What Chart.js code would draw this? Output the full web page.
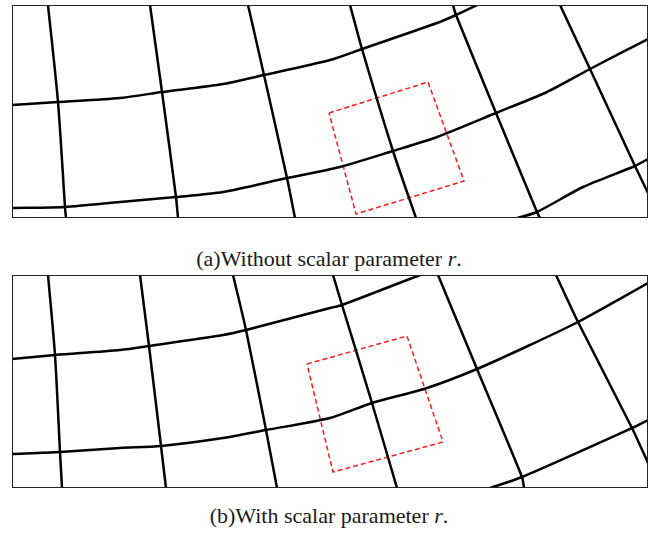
<!DOCTYPE html>
<html>
<head>
<meta charset="utf-8">
<script src="https://cdn.jsdelivr.net/npm/chart.js@4"></script>
<style>
  body { margin: 0; background: #fff; width: 667px; height: 540px; position: relative; overflow: hidden; }
  .panel { position: absolute; left: 12px; width: 636px; height: 213px; }
  .caption { position: absolute; left: 0; width: 658px; text-align: center; line-height: 25px;
             font-family: "Liberation Serif", "DejaVu Serif", serif; font-size: 22px; color: #1a1a1a; }
</style>
</head>
<body>
<div class="panel" style="top:5px"><canvas id="chartA"></canvas></div>
<div class="caption" style="top:246px">(a)Without scalar parameter <i>r</i>.</div>
<div class="panel" style="top:275px"><canvas id="chartB"></canvas></div>
<div class="caption" style="top:503px">(b)With scalar parameter <i>r</i>.</div>
<script>
// panel coordinates: x 0..636, y 0..213 (y down)
const xRange = [0, 636];
const yRange = [0, 213];

// (a) without r
const aVertical = [
  [[36,0],[46,97],[53,202],[54,213]],
  [[138,0],[150,87],[164,192],[166,213]],
  [[236,0],[252,70],[275,173],[283,213]],
  [[338,0],[350,44],[381,146],[404,213]],
  [[441,0],[444,10],[484,108],[525,207],[528,213]],
  [[548,0],[578,64],[623,161],[636,188]]
];
const aHorizontal = [
  [[0,100],[46,97],[108,93],[150,87],[211,79],[252,70],[318,55],[350,44],[425,18],[444,10],[465,0]],
  [[0,203],[53,202],[108,197],[164,192],[211,187],[275,173],[328,162],[381,146],[425,132],[484,108],[535,87],[578,64],[636,34]],
  [[505,213],[525,207],[571,182],[623,161],[636,154]]
];
const aBox = [[317,108],[416,77],[452,176],[344,209],[317,108]];

// (b) with r
const bVertical = [
  [[36,0],[43,80],[48,177],[50,213]],
  [[128,0],[137,71],[149,171],[154,213]],
  [[221,0],[234,55],[254,155],[265,213]],
  [[321,0],[330,30],[360,128],[385,213]],
  [[426,0],[465,94],[510,202],[512,213]],
  [[544,0],[566,47],[620,153],[636,188]]
];
const bHorizontal = [
  [[0,84],[43,80],[108,75],[137,71],[211,60],[234,55],[318,33],[330,30],[408,0]],
  [[0,179],[48,177],[108,173],[149,171],[211,163],[254,155],[318,143],[360,128],[415,113],[465,94],[518,70],[566,47],[636,8]],
  [[478,213],[510,202],[620,153],[636,145]]
];
const bBox = [[295,89],[395,61],[431,167],[321,197],[295,89]];

function gridSet(line) {
  return {
    data: line.map(p => ({ x: p[0], y: p[1] })),
    showLine: true, pointRadius: 0, borderColor: "#000", borderWidth: 2.5,
    borderCapStyle: "butt", borderJoinStyle: "round", tension: 0.25, clip: 0
  };
}
function boxSet(line) {
  return {
    data: line.map(p => ({ x: p[0], y: p[1] })),
    showLine: true, pointRadius: 0, borderColor: "#ff1a1a", borderWidth: 1.5,
    borderDash: [5, 3], tension: 0, clip: 0
  };
}

const frame = {
  id: "frame",
  afterDraw(chart) {
    const a = chart.chartArea, c = chart.ctx;
    c.save();
    c.strokeStyle = "#222";
    c.lineWidth = 1;
    c.strokeRect(a.left + 0.5, a.top + 0.5, a.right - a.left - 1, a.bottom - a.top - 1);
    c.restore();
  }
};

function makeChart(id, vert, hor, box) {
  new Chart(document.getElementById(id), {
    type: "scatter",
    data: { datasets: [...vert.map(gridSet), ...hor.map(gridSet), boxSet(box)] },
    options: {
      responsive: true, maintainAspectRatio: false, animation: false,
      layout: { padding: 0 },
      plugins: { legend: { display: false }, tooltip: { enabled: false } },
      scales: {
        x: { type: "linear", min: xRange[0], max: xRange[1], display: false },
        y: { type: "linear", min: yRange[0], max: yRange[1], reverse: true, display: false }
      }
    },
    plugins: [frame]
  });
}

makeChart("chartA", aVertical, aHorizontal, aBox);
makeChart("chartB", bVertical, bHorizontal, bBox);
</script>
</body>
</html>
